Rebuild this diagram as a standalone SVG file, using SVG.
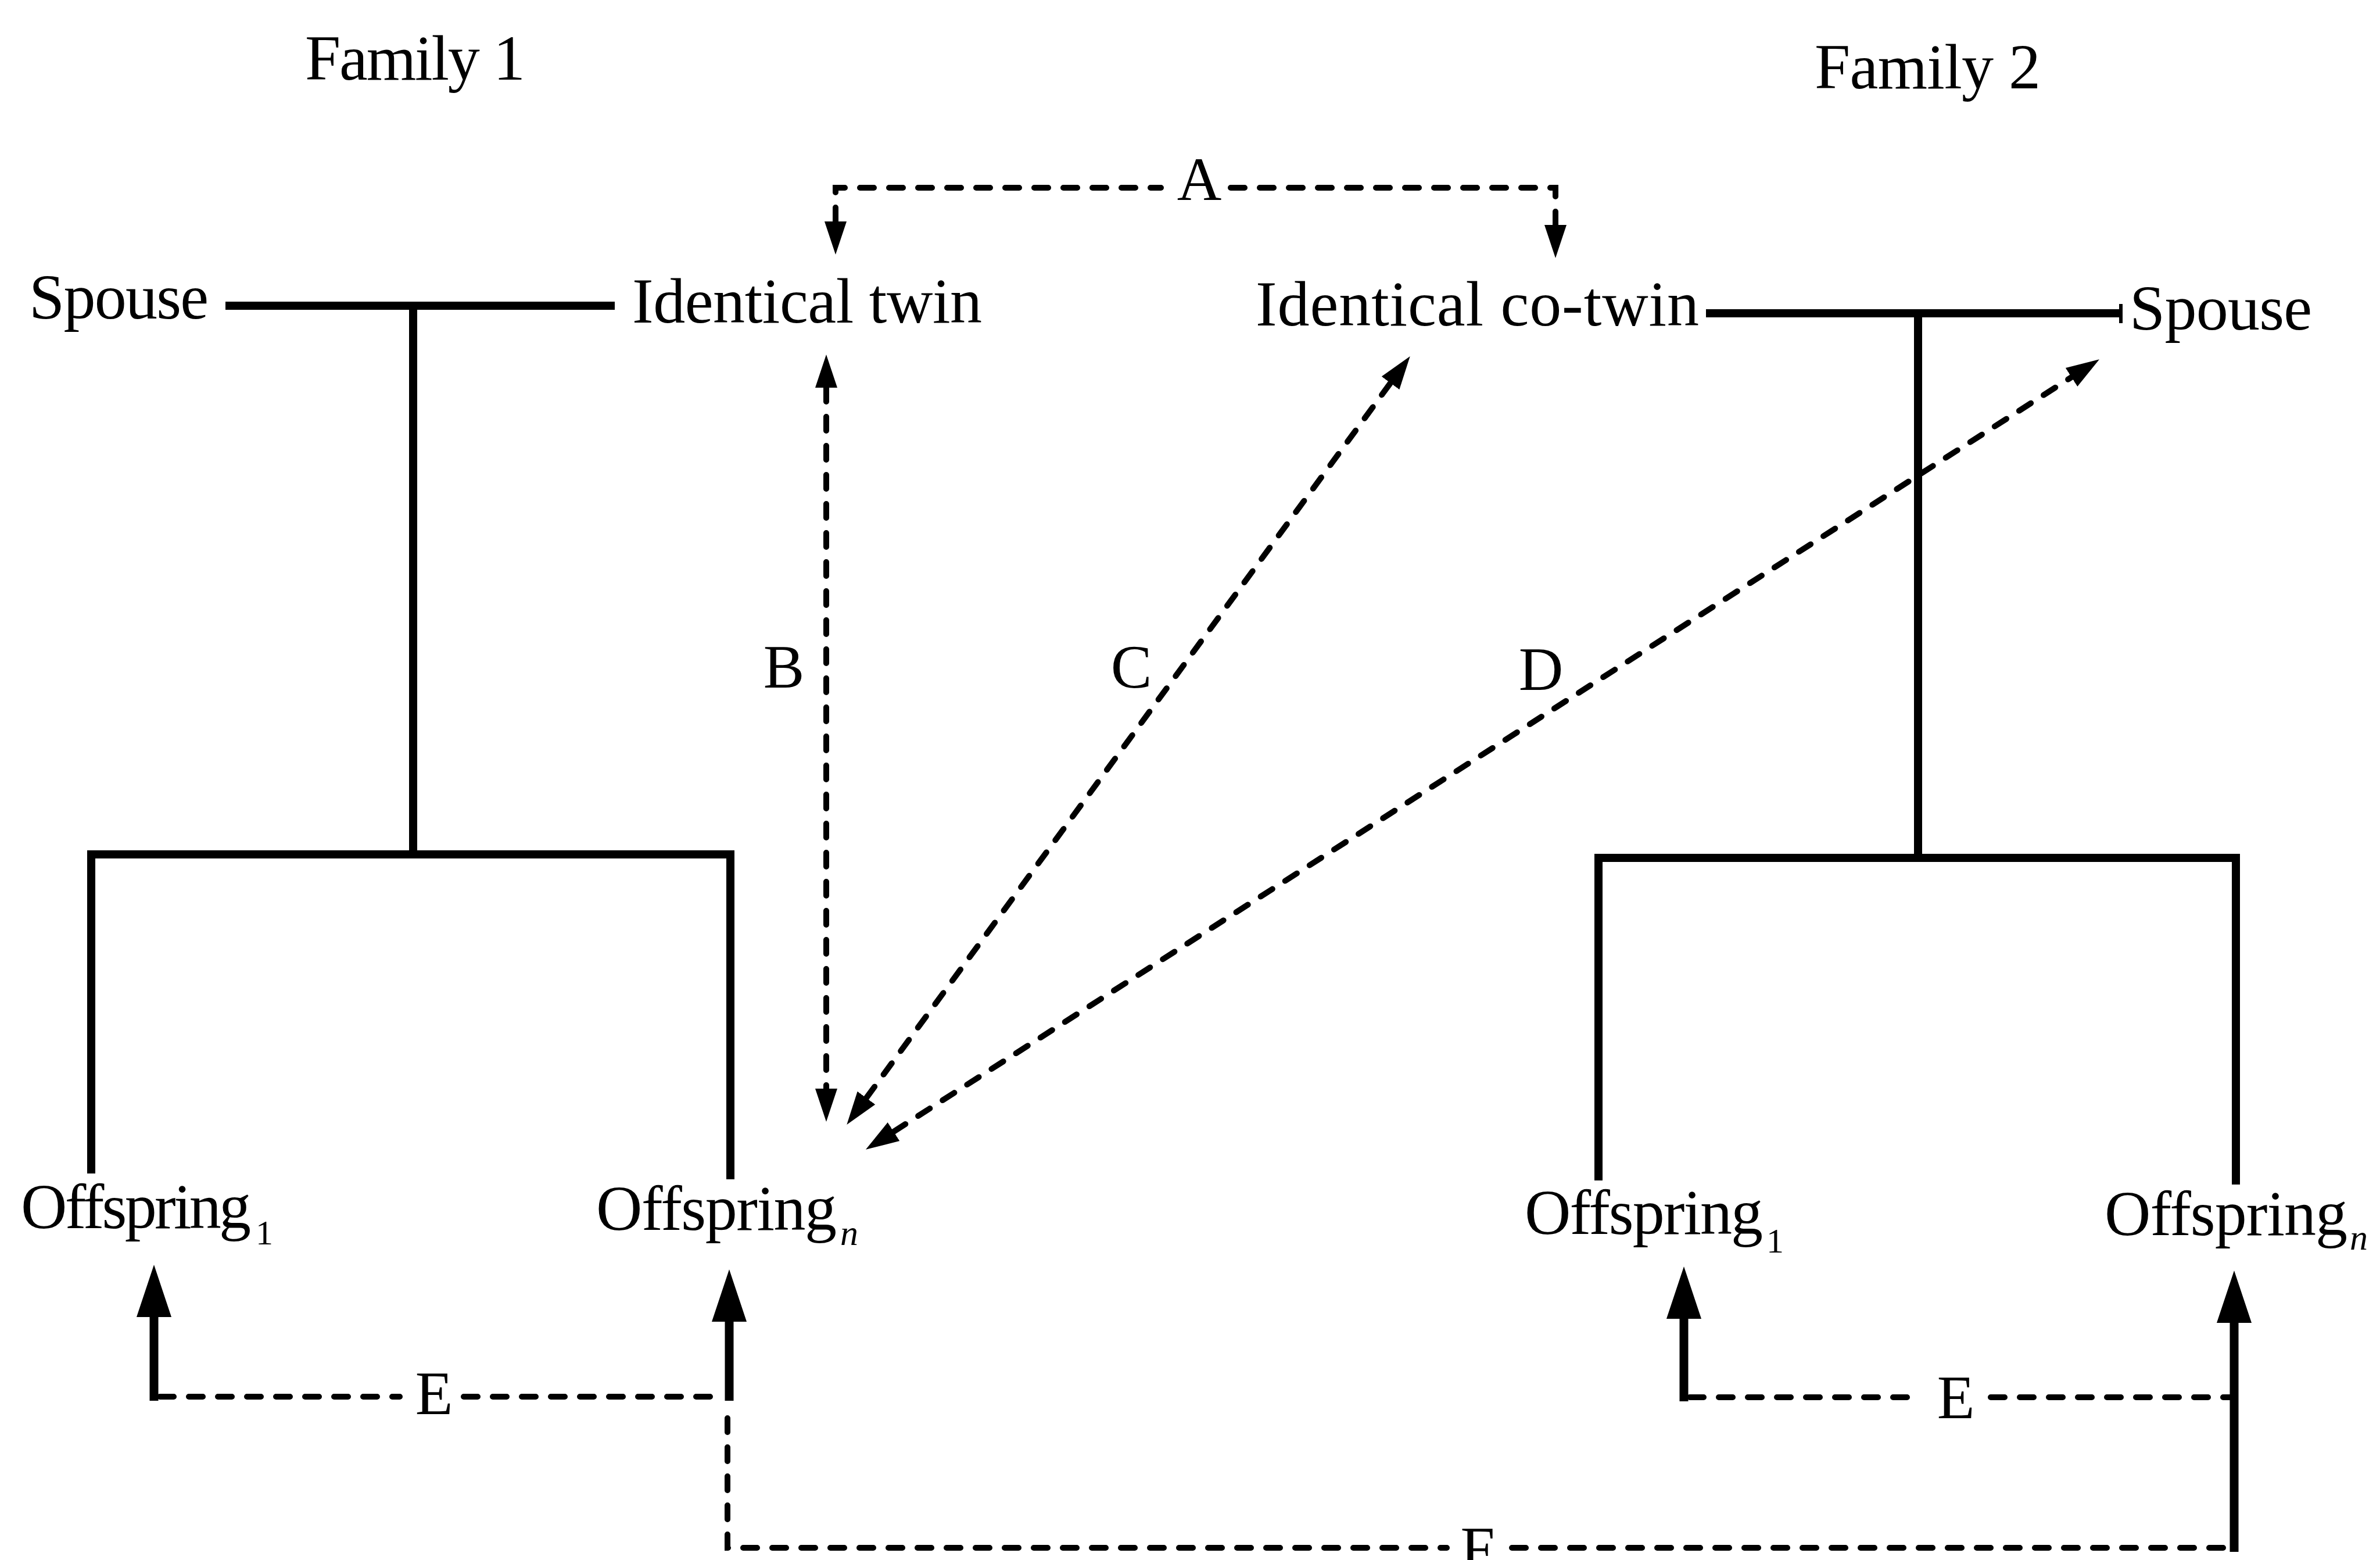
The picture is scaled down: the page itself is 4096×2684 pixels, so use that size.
<svg xmlns="http://www.w3.org/2000/svg" width="4096" height="2684" viewBox="0 0 4096 2684">
  <style>
    text { font-family: "Liberation Serif", "Times New Roman", serif; fill: #000; }
    .name { font-size: 110px; }
    .label { font-size: 106px; }
    .sub { font-size: 60px; }
    .subi { font-size: 62px; font-style: italic; }
    .tree { stroke: #000; stroke-width: 14; fill: none; stroke-linecap: butt; stroke-linejoin: miter; }
    .dash { stroke: #000; stroke-width: 10; fill: none; stroke-dasharray: 24 26; stroke-linecap: round; }
    .shaft { stroke: #000; stroke-width: 15; fill: none; }
  </style>
  <defs>
    <!-- small head for the dashed relation lines -->
    <marker id="tip" markerUnits="userSpaceOnUse" viewBox="0 -20 60 40" markerWidth="60" markerHeight="40" refX="0" refY="0" orient="auto-start-reverse">
      <path d="M0,-19 L57,0 L0,19 Z" fill="#000"/>
    </marker>
    <!-- large head for the solid offspring arrows -->
    <marker id="tipBig" markerUnits="userSpaceOnUse" viewBox="0 -31 92 62" markerWidth="92" markerHeight="62" refX="0" refY="0" orient="auto">
      <path d="M0,-30 L90,0 L0,30 Z" fill="#000"/>
    </marker>
  </defs>

  <rect width="4096" height="2684" fill="#fff"/>

  <!-- family headings -->
  <g id="family1-title"><text class="name" x="525" y="137" textLength="379">Family 1</text></g>
  <g id="family2-title"><text class="name" x="3123" y="152" textLength="389">Family 2</text></g>

  <!-- pedigree lines and relation connectors -->
  <g id="connectors">
    <!-- family 1 marriage and sibship -->
    <path class="tree" d="M388,526 H1058 M711,526 V1470 M157,2019 V1470 H1257 V2029"/>
    <!-- family 2 marriage and sibship -->
    <path class="tree" d="M2936,539 H3650 M3301,539 V1476 M2751,2031 V1476 H3848 V2038"/>
    <path stroke="#000" stroke-width="6" d="M3650,523 V556"/>

    <!-- A: twin to co-twin -->
    <path class="dash" d="M1438,381 V323 H1998" marker-start="url(#tip)"/>
    <path class="dash" d="M2118,323 H2677 V387" marker-end="url(#tip)"/>

    <!-- B: twin to own offspring -->
    <path class="dash" d="M1422,667 V1873" marker-start="url(#tip)" marker-end="url(#tip)"/>

    <!-- C: offspring to co-twin -->
    <path class="dash" d="M1491,1889 L2393,659" marker-start="url(#tip)" marker-end="url(#tip)"/>

    <!-- D: offspring to co-twin's spouse -->
    <path class="dash" d="M1538,1947 L3565,649" marker-start="url(#tip)" marker-end="url(#tip)"/>

    <!-- E: siblings within family 1 -->
    <path class="shaft" d="M265,2410 V2266" marker-end="url(#tipBig)"/>
    <path class="shaft" d="M1255,2410 V2274" marker-end="url(#tipBig)"/>
    <path class="dash" d="M275,2403 H688 M798,2403 H1245"/>

    <!-- E: siblings within family 2 -->
    <path class="shaft" d="M2898,2411 V2269" marker-end="url(#tipBig)"/>
    <path class="dash" d="M2908,2404 H3303 M3426,2404 H3838"/>

    <!-- F: cousins across families -->
    <path class="dash" d="M1252,2440 V2663 H2490 M2602,2663 H3836"/>
    <path class="shaft" d="M3845,2670 V2276" marker-end="url(#tipBig)"/>
  </g>

  <!-- people -->
  <g id="spouse1"><text class="name" x="50" y="548" textLength="309">Spouse</text></g>
  <g id="twin"><text class="name" x="1088" y="555" textLength="602">Identical twin</text></g>
  <g id="cotwin"><text class="name" x="2161" y="560" textLength="763">Identical co-twin</text></g>
  <g id="spouse2"><text class="name" x="3665" y="567" textLength="314">Spouse</text></g>

  <g id="f1-offspring1">
    <text class="name"><tspan x="36" y="2113" textLength="396">Offspring</tspan><tspan class="sub" x="440" y="2141">1</tspan></text>
  </g>
  <g id="f1-offspringn">
    <text class="name"><tspan x="1026" y="2116" textLength="414">Offspring</tspan><tspan class="subi" x="1446" y="2142">n</tspan></text>
  </g>
  <g id="f2-offspring1">
    <text class="name"><tspan x="2624" y="2123" textLength="410">Offspring</tspan><tspan class="sub" x="3040" y="2155">1</tspan></text>
  </g>
  <g id="f2-offspringn">
    <text class="name"><tspan x="3622" y="2125" textLength="418">Offspring</tspan><tspan class="subi" x="4044" y="2150">n</tspan></text>
  </g>

  <!-- relation labels -->
  <g id="labels">
    <text class="label" x="2064" y="344" text-anchor="middle">A</text>
    <text class="label" x="1349" y="1183" text-anchor="middle">B</text>
    <text class="label" x="1947" y="1183" text-anchor="middle">C</text>
    <text class="label" x="2652" y="1187" text-anchor="middle">D</text>
    <text class="label" x="747" y="2433" text-anchor="middle">E</text>
    <text class="label" x="3366" y="2440" text-anchor="middle">E</text>
    <text class="label" x="2543" y="2700" text-anchor="middle">F</text>
  </g>
</svg>
